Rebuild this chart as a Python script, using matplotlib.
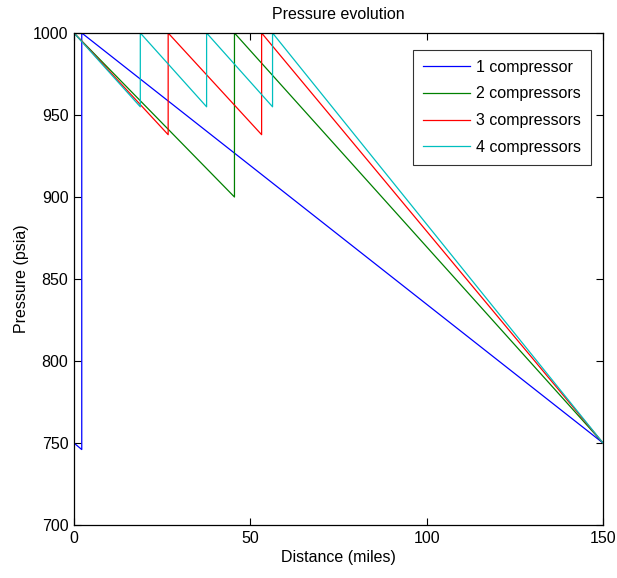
import matplotlib
matplotlib.use("Agg")
import matplotlib.pyplot as plt

plt.rcParams['font.family'] = ['Liberation Sans', 'DejaVu Sans']

# Data
labels = ["1 compressor", "2 compressors", "3 compressors", "4 compressors"]
x1 = [0, 2.2, 2.2, 150]
y1 = [750, 746, 1000, 750]
x2 = [0, 0, 45.5, 45.5, 150]
y2 = [750, 1000, 900, 1000, 750]
x3 = [0, 0, 26.7, 26.7, 53.2, 53.2, 150]
y3 = [750, 1000, 938, 1000, 938, 1000, 750]
x4 = [0, 0, 18.8, 18.8, 37.6, 37.6, 56.3, 56.3, 150]
y4 = [750, 1000, 955, 1000, 955, 1000, 955, 1000, 750]
colors = ["#0000ff", "#008000", "#ff0000", "#00bfbf"]

xticks = [0, 50, 100, 150]
yticks = [700, 750, 800, 850, 900, 950, 1000]

fig = plt.figure(figsize=(6.17, 5.78), dpi=100)
ax = fig.add_axes([74/617, 1 - 525/578, (603-74)/617, (525-33)/578])

for xs, ys, c, lab in zip([x1, x2, x3, x4], [y1, y2, y3, y4], colors, labels):
    ax.plot(xs, ys, color=c, lw=0.9, label=lab)

ax.set_xlim(0, 150)
ax.set_ylim(700, 1000)
ax.set_xticks(xticks)
ax.set_yticks(yticks)
ax.tick_params(direction='in', top=True, right=True, labelsize=11.5, length=5, width=0.8, pad=4)
for s in ax.spines.values():
    s.set_linewidth(0.9)

ax.set_xlabel("Distance (miles)", fontsize=11.5, labelpad=3)
ax.set_ylabel("Pressure (psia)", fontsize=11.5, labelpad=3)
ax.set_title("Pressure evolution", fontsize=11.5, pad=10)

leg = ax.legend(loc='upper right', bbox_to_anchor=(591/617, 1 - 50/578), bbox_transform=fig.transFigure,
                fontsize=11.5, frameon=True, fancybox=False, edgecolor='black',
                handlelength=2.95, handletextpad=0.4, borderpad=0.6, labelspacing=0.74, borderaxespad=0)
leg.get_frame().set_linewidth(0.8)

fig.savefig("out.png", dpi=100)
